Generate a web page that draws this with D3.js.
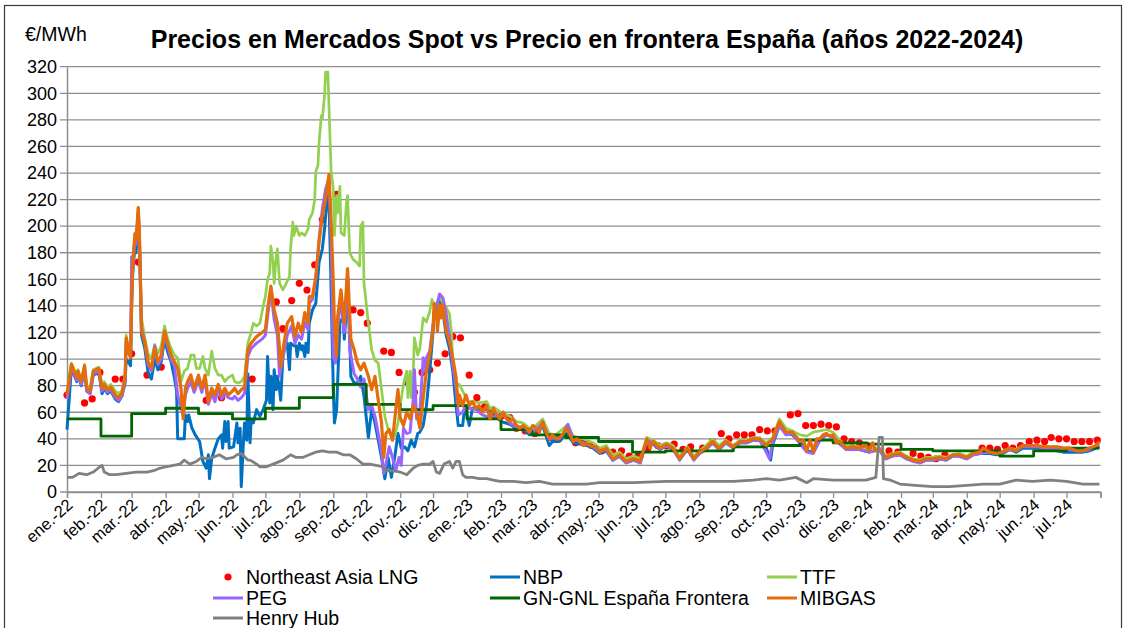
<!DOCTYPE html>
<html>
<head>
<meta charset="utf-8">
<script src="https://cdn.jsdelivr.net/npm/d3@7"></script>
<style>
  body { margin: 0; background: #fff; }
  svg { display: block; font-family: Arial, "Liberation Sans", sans-serif; }
</style>
</head>
<body>
<div id="chart"></div>
<script>
// month labels used on the date axis
const monthNames = ["ene.", "feb.", "mar.", "abr.", "may.", "jun.", "jul.", "ago.", "sep.", "oct.", "nov.", "dic."]
const yTicks = d3.range(0, 321, 20)

// Northeast Asia LNG (weekly points)
const asiaLng = [
  ["2022-01-01",73],["2022-01-17",67],["2022-01-24",70],["2022-01-31",90],["2022-02-14",85],["2022-02-21",85],
  ["2022-03-01",104],["2022-03-07",173],["2022-03-15",88],["2022-03-28",94],["2022-05-08",69],["2022-05-22",71],
  ["2022-06-19",85],["2022-07-11",143],["2022-07-17",123],["2022-07-25",144],["2022-08-01",157],["2022-08-08",152],
  ["2022-08-15",171],["2022-08-22",205],["2022-09-04",224],["2022-09-19",137],["2022-09-26",135],["2022-10-02",127],
  ["2022-10-17",106],["2022-10-24",105],["2022-10-31",90],["2022-11-07",83],["2022-11-14",75],["2022-11-21",90],
  ["2022-11-28",92],["2022-12-05",97],["2022-12-12",104],["2022-12-19",117],["2022-12-26",116],["2023-01-03",88],
  ["2023-01-10",71],["2023-01-17",64],["2023-01-25",58],["2023-02-01",57],["2023-02-09",56],["2023-02-15",48],
  ["2023-02-23",46],["2023-03-04",44],["2023-03-19",41],["2023-03-26",40],["2023-04-10",37],["2023-04-18",38],
  ["2023-04-25",35],["2023-05-04",31],["2023-05-14",30],["2023-05-22",31],["2023-05-29",27],["2023-06-06",27],
  ["2023-06-15",33],["2023-06-24",35],["2023-07-02",35],["2023-07-09",36],["2023-07-17",32],["2023-07-24",34],
  ["2023-08-04",33],["2023-08-13",38],["2023-08-21",44],["2023-08-28",40],["2023-09-04",43],["2023-09-11",43],
  ["2023-09-18",43],["2023-09-25",47],["2023-10-02",46],["2023-10-09",46],["2023-10-23",58],["2023-10-30",59],
  ["2023-11-06",50],["2023-11-13",50],["2023-11-20",51],["2023-11-27",50],["2023-12-04",49],["2023-12-11",40],
  ["2023-12-18",38],["2023-12-25",37],["2024-01-01",35],["2024-01-21",31],["2024-01-29",30],["2024-02-12",29],
  ["2024-02-19",27],["2024-02-26",26],["2024-03-04",25],["2024-03-12",28],["2024-04-15",33],["2024-04-22",33],
  ["2024-04-29",32],["2024-05-06",35],["2024-05-13",33],["2024-05-20",35],["2024-05-28",38],["2024-06-04",39],
  ["2024-06-11",38],["2024-06-17",41],["2024-06-24",40],["2024-07-01",40],["2024-07-08",38],["2024-07-15",38],
  ["2024-07-22",38],["2024-07-29",39]
]

const nbp = [
  ["2022-01-01",47],["2022-01-05",93],["2022-01-10",83],["2022-01-11",90],["2022-01-14",80],["2022-01-17",93],
  ["2022-01-19",76],["2022-01-22",74],["2022-01-25",88],["2022-01-30",90],["2022-02-02",74],["2022-02-04",78],
  ["2022-02-07",74],["2022-02-10",76],["2022-02-14",70],["2022-02-17",68],["2022-02-20",72],["2022-02-23",82],
  ["2022-02-24",100],["2022-02-26",98],["2022-02-28",95],["2022-03-01",140],["2022-03-02",165],["2022-03-04",185],
  ["2022-03-05",180],["2022-03-07",205],["2022-03-08",190],["2022-03-10",118],["2022-03-13",108],["2022-03-16",90],
  ["2022-03-19",85],["2022-03-22",100],["2022-03-25",92],["2022-03-28",98],["2022-03-31",115],["2022-04-03",105],
  ["2022-04-06",98],["2022-04-09",86],["2022-04-11",76],["2022-04-12",40],["2022-04-15",40],["2022-04-18",40],
  ["2022-04-19",58],["2022-04-21",53],["2022-04-22",58],["2022-04-25",48],["2022-04-28",43],["2022-05-02",38],
  ["2022-05-05",23],["2022-05-08",18],["2022-05-10",28],["2022-05-11",10],["2022-05-13",25],["2022-05-16",33],
  ["2022-05-19",40],["2022-05-22",43],["2022-05-23",33],["2022-05-25",53],["2022-05-26",38],["2022-05-28",53],
  ["2022-05-29",33],["2022-06-02",34],["2022-06-05",52],["2022-06-06",37],["2022-06-08",48],["2022-06-09",4],
  ["2022-06-11",38],["2022-06-12",52],["2022-06-14",39],["2022-06-15",89],["2022-06-17",37],["2022-06-18",54],
  ["2022-06-20",52],["2022-06-23",62],["2022-06-26",57],["2022-06-29",62],["2022-07-02",69],["2022-07-03",102],
  ["2022-07-05",67],["2022-07-06",87],["2022-07-08",62],["2022-07-09",92],["2022-07-11",77],["2022-07-12",87],
  ["2022-07-14",77],["2022-07-15",69],["2022-07-17",102],["2022-07-18",107],["2022-07-21",112],["2022-07-23",92],
  ["2022-07-24",112],["2022-07-27",110],["2022-07-29",110],["2022-07-30",102],["2022-08-01",112],["2022-08-03",107],
  ["2022-08-04",110],["2022-08-06",102],["2022-08-07",112],["2022-08-09",105],["2022-08-10",127],["2022-08-13",137],
  ["2022-08-16",142],["2022-08-19",173],["2022-08-22",183],["2022-08-24",198],["2022-08-25",208],["2022-08-27",223],
  ["2022-08-28",223],["2022-08-30",152],["2022-09-01",77],["2022-09-02",52],["2022-09-04",62],["2022-09-07",127],
  ["2022-09-10",132],["2022-09-11",115],["2022-09-13",137],["2022-09-14",152],["2022-09-16",117],["2022-09-17",87],
  ["2022-09-20",82],["2022-09-23",82],["2022-09-26",87],["2022-09-29",72],["2022-10-03",41],["2022-10-06",62],
  ["2022-10-09",52],["2022-10-12",39],["2022-10-15",26],["2022-10-18",10],["2022-10-21",26],["2022-10-24",11],
  ["2022-10-27",26],["2022-10-30",44],["2022-11-02",33],["2022-11-05",34],["2022-11-08",31],["2022-11-11",39],
  ["2022-11-14",34],["2022-11-17",44],["2022-11-19",45],["2022-11-22",50],["2022-11-25",65],["2022-11-28",91],
  ["2022-12-01",121],["2022-12-02",136],["2022-12-04",134],["2022-12-07",144],["2022-12-10",136],["2022-12-13",118],
  ["2022-12-16",108],["2022-12-19",91],["2022-12-22",65],["2022-12-24",50],["2022-12-28",50],["2022-12-30",65],
  ["2023-01-03",50],["2023-01-06",63],["2023-01-12",62],["2023-01-19",62],["2023-01-25",60],["2023-02-01",53],
  ["2023-02-09",51],["2023-02-15",48],["2023-02-21",48],["2023-02-27",43],["2023-03-05",46],["2023-03-11",50],
  ["2023-03-17",35],["2023-03-20",38],["2023-03-26",38],["2023-04-02",44],["2023-04-08",37],["2023-04-14",36],
  ["2023-04-20",35],["2023-04-26",33],["2023-05-02",29],["2023-05-08",31],["2023-05-14",24],["2023-05-20",27],
  ["2023-05-26",22],["2023-06-02",24],["2023-06-08",22],["2023-06-14",38],["2023-06-20",36],["2023-06-26",32],
  ["2023-07-02",35],["2023-07-08",32],["2023-07-14",25],["2023-07-21",32],["2023-07-27",25],["2023-08-01",29],
  ["2023-08-07",32],["2023-08-13",37],["2023-08-19",32],["2023-08-25",37],["2023-09-01",33],["2023-09-07",37],
  ["2023-09-13",37],["2023-09-19",39],["2023-09-25",39],["2023-10-01",33],["2023-10-05",24],["2023-10-07",36],
  ["2023-10-13",50],["2023-10-19",44],["2023-10-25",43],["2023-11-01",37],["2023-11-07",31],["2023-11-13",30],
  ["2023-11-19",40],["2023-11-25",43],["2023-12-01",42],["2023-12-07",37],["2023-12-13",32],["2023-12-19",33],
  ["2023-12-25",32],["2024-01-03",30],["2024-01-12",32],["2024-01-18",25],["2024-01-24",27],["2024-01-31",28],
  ["2024-02-06",25],["2024-02-12",24],["2024-02-18",22],["2024-02-24",24],["2024-03-01",24],["2024-03-07",25],
  ["2024-03-13",24],["2024-03-19",27],["2024-03-25",27],["2024-04-01",25],["2024-04-07",28],["2024-04-13",29],
  ["2024-04-22",29],["2024-04-28",28],["2024-05-04",29],["2024-05-10",32],["2024-05-16",30],["2024-05-22",33],
  ["2024-05-28",33],["2024-06-04",33],["2024-06-10",32],["2024-06-16",32],["2024-06-22",31],["2024-06-28",30],
  ["2024-07-04",30],["2024-07-10",30],["2024-07-16",30],["2024-07-22",31],["2024-07-31",34]
]

const ttf = [
  ["2022-01-01",75],["2022-01-05",97],["2022-01-10",87],["2022-01-11",92],["2022-01-14",84],["2022-01-17",96],
  ["2022-01-19",80],["2022-01-22",78],["2022-01-25",92],["2022-01-30",94],["2022-02-02",80],["2022-02-04",83],
  ["2022-02-07",79],["2022-02-10",81],["2022-02-14",76],["2022-02-17",74],["2022-02-20",76],["2022-02-23",88],
  ["2022-02-24",118],["2022-02-26",108],["2022-02-28",104],["2022-03-01",148],["2022-03-02",172],["2022-03-04",195],
  ["2022-03-05",190],["2022-03-07",214],["2022-03-08",198],["2022-03-10",131],["2022-03-13",116],["2022-03-16",104],
  ["2022-03-19",100],["2022-03-22",111],["2022-03-25",104],["2022-03-28",110],["2022-03-31",125],["2022-04-03",115],
  ["2022-04-06",108],["2022-04-09",103],["2022-04-12",101],["2022-04-15",83],["2022-04-18",91],["2022-04-21",93],
  ["2022-04-24",103],["2022-04-27",103],["2022-04-29",93],["2022-05-02",93],["2022-05-05",102],["2022-05-07",93],
  ["2022-05-10",88],["2022-05-13",106],["2022-05-16",93],["2022-05-19",88],["2022-05-22",88],["2022-05-25",83],
  ["2022-05-28",86],["2022-06-01",88],["2022-06-03",83],["2022-06-06",82],["2022-06-09",83],["2022-06-12",87],
  ["2022-06-15",112],["2022-06-18",120],["2022-06-20",127],["2022-06-23",125],["2022-06-26",127],["2022-06-29",140],
  ["2022-07-01",147],["2022-07-03",160],["2022-07-05",165],["2022-07-06",185],["2022-07-08",173],["2022-07-09",157],
  ["2022-07-11",178],["2022-07-12",183],["2022-07-14",157],["2022-07-17",152],["2022-07-20",157],["2022-07-23",162],
  ["2022-07-24",183],["2022-07-26",203],["2022-07-27",193],["2022-07-29",200],["2022-08-01",193],["2022-08-03",195],
  ["2022-08-06",193],["2022-08-09",198],["2022-08-10",205],["2022-08-13",210],["2022-08-15",220],["2022-08-16",241],
  ["2022-08-18",246],["2022-08-19",263],["2022-08-21",283],["2022-08-22",281],["2022-08-24",298],["2022-08-25",316],
  ["2022-08-27",316],["2022-08-28",291],["2022-08-30",241],["2022-09-01",228],["2022-09-02",193],["2022-09-04",223],
  ["2022-09-05",210],["2022-09-07",230],["2022-09-08",195],["2022-09-11",193],["2022-09-13",218],["2022-09-14",223],
  ["2022-09-16",180],["2022-09-19",175],["2022-09-22",173],["2022-09-25",170],["2022-09-26",200],["2022-09-28",203],
  ["2022-09-29",157],["2022-10-03",127],["2022-10-06",107],["2022-10-09",99],["2022-10-12",97],["2022-10-15",77],
  ["2022-10-18",57],["2022-10-21",47],["2022-10-24",42],["2022-10-27",42],["2022-10-30",52],["2022-11-01",65],
  ["2022-11-04",81],["2022-11-07",91],["2022-11-08",71],["2022-11-10",91],["2022-11-11",71],["2022-11-13",93],
  ["2022-11-14",116],["2022-11-16",108],["2022-11-17",103],["2022-11-19",108],["2022-11-22",131],["2022-11-25",128],
  ["2022-11-28",136],["2022-11-30",145],["2022-12-01",141],["2022-12-04",141],["2022-12-07",147],["2022-12-10",142],
  ["2022-12-13",139],["2022-12-16",134],["2022-12-18",118],["2022-12-19",96],["2022-12-22",81],["2022-12-25",81],
  ["2022-12-28",76],["2022-12-31",71],["2023-01-03",68],["2023-01-06",68],["2023-01-12",67],["2023-01-19",68],
  ["2023-01-22",63],["2023-01-25",64],["2023-02-01",60],["2023-02-09",57],["2023-02-15",53],["2023-02-21",52],
  ["2023-02-27",48],["2023-03-05",50],["2023-03-11",55],["2023-03-17",44],["2023-03-23",43],["2023-04-02",50],
  ["2023-04-08",42],["2023-04-14",41],["2023-04-20",39],["2023-04-26",37],["2023-05-02",33],["2023-05-08",35],
  ["2023-05-14",28],["2023-05-20",30],["2023-05-26",25],["2023-06-02",27],["2023-06-08",25],["2023-06-14",41],
  ["2023-06-20",39],["2023-06-26",35],["2023-07-02",37],["2023-07-08",35],["2023-07-14",27],["2023-07-21",34],
  ["2023-07-27",27],["2023-08-01",31],["2023-08-07",35],["2023-08-13",40],["2023-08-19",35],["2023-08-25",39],
  ["2023-09-01",35],["2023-09-07",39],["2023-09-13",39],["2023-09-19",41],["2023-09-25",41],["2023-10-01",37],
  ["2023-10-07",41],["2023-10-13",55],["2023-10-19",48],["2023-10-25",46],["2023-11-01",43],["2023-11-07",42],
  ["2023-11-13",45],["2023-11-19",46],["2023-11-25",47],["2023-12-01",45],["2023-12-07",39],["2023-12-13",35],
  ["2023-12-19",35],["2023-12-25",34],["2024-01-03",32],["2024-01-12",33],["2024-01-18",27],["2024-01-24",29],
  ["2024-01-31",30],["2024-02-06",27],["2024-02-12",25],["2024-02-18",24],["2024-02-24",26],["2024-03-01",26],
  ["2024-03-07",27],["2024-03-13",26],["2024-03-19",28],["2024-03-25",29],["2024-04-01",27],["2024-04-07",30],
  ["2024-04-13",31],["2024-04-22",31],["2024-04-28",30],["2024-05-04",31],["2024-05-10",33],["2024-05-16",32],
  ["2024-05-22",35],["2024-05-28",35],["2024-06-04",35],["2024-06-10",34],["2024-06-16",34],["2024-06-22",34],
  ["2024-06-28",33],["2024-07-04",33],["2024-07-10",32],["2024-07-16",32],["2024-07-22",33],["2024-07-31",36]
]

const peg = [
  ["2022-01-01",70],["2022-01-05",94],["2022-01-10",84],["2022-01-11",89],["2022-01-14",81],["2022-01-17",93],
  ["2022-01-19",76],["2022-01-22",74],["2022-01-25",89],["2022-01-30",91],["2022-02-02",76],["2022-02-04",79],
  ["2022-02-07",75],["2022-02-10",77],["2022-02-14",71],["2022-02-17",69],["2022-02-20",72],["2022-02-23",84],
  ["2022-02-24",112],["2022-02-26",104],["2022-02-28",110],["2022-03-01",177],["2022-03-02",170],["2022-03-04",190],
  ["2022-03-05",186],["2022-03-07",210],["2022-03-08",194],["2022-03-10",124],["2022-03-13",112],["2022-03-16",96],
  ["2022-03-19",91],["2022-03-22",110],["2022-03-25",96],["2022-03-28",100],["2022-03-31",119],["2022-04-03",109],
  ["2022-04-06",100],["2022-04-09",95],["2022-04-12",73],["2022-04-15",63],["2022-04-17",58],["2022-04-19",73],
  ["2022-04-21",78],["2022-04-24",83],["2022-04-27",75],["2022-05-01",84],["2022-05-04",75],["2022-05-07",84],
  ["2022-05-10",66],["2022-05-13",74],["2022-05-16",68],["2022-05-19",78],["2022-05-22",70],["2022-05-25",74],
  ["2022-05-28",71],["2022-06-01",70],["2022-06-03",72],["2022-06-06",69],["2022-06-09",71],["2022-06-12",74],
  ["2022-06-15",102],["2022-06-18",108],["2022-06-23",112],["2022-06-28",115],["2022-07-01",118],["2022-07-03",132],
  ["2022-07-06",152],["2022-07-09",130],["2022-07-12",118],["2022-07-14",87],["2022-07-15",92],["2022-07-18",105],
  ["2022-07-21",118],["2022-07-25",125],["2022-07-28",112],["2022-07-31",118],["2022-08-03",115],["2022-08-06",128],
  ["2022-08-09",122],["2022-08-10",142],["2022-08-13",145],["2022-08-16",160],["2022-08-19",190],["2022-08-22",213],
  ["2022-08-25",228],["2022-08-28",236],["2022-08-30",190],["2022-09-01",102],["2022-09-03",97],["2022-09-05",125],
  ["2022-09-08",145],["2022-09-11",120],["2022-09-14",165],["2022-09-16",107],["2022-09-20",89],["2022-09-23",85],
  ["2022-09-26",79],["2022-09-29",85],["2022-10-03",62],["2022-10-06",65],["2022-10-09",57],["2022-10-12",44],
  ["2022-10-15",30],["2022-10-17",14],["2022-10-19",21],["2022-10-22",34],["2022-10-25",26],["2022-10-28",16],
  ["2022-10-31",26],["2022-11-02",20],["2022-11-04",48],["2022-11-07",44],["2022-11-10",45],["2022-11-13",70],
  ["2022-11-14",92],["2022-11-16",55],["2022-11-19",60],["2022-11-22",101],["2022-11-23",91],["2022-11-25",101],
  ["2022-11-28",106],["2022-12-01",126],["2022-12-04",139],["2022-12-07",149],["2022-12-10",146],["2022-12-13",134],
  ["2022-12-16",116],["2022-12-19",96],["2022-12-22",78],["2022-12-24",58],["2022-12-28",60],["2022-12-31",65],
  ["2023-01-03",63],["2023-01-09",62],["2023-01-15",58],["2023-01-22",56],["2023-01-28",57],["2023-02-03",58],
  ["2023-02-09",52],["2023-02-15",49],["2023-02-21",49],["2023-02-27",45],["2023-03-05",47],["2023-03-11",52],
  ["2023-03-17",40],["2023-03-23",41],["2023-03-29",43],["2023-04-03",51],["2023-04-08",40],["2023-04-14",38],
  ["2023-04-20",36],["2023-04-26",34],["2023-05-02",30],["2023-05-08",32],["2023-05-14",24],["2023-05-20",27],
  ["2023-05-26",22],["2023-06-02",24],["2023-06-08",22],["2023-06-14",39],["2023-06-20",37],["2023-06-26",32],
  ["2023-07-02",35],["2023-07-08",32],["2023-07-14",24],["2023-07-21",32],["2023-07-27",24],["2023-08-01",29],
  ["2023-08-07",32],["2023-08-13",37],["2023-08-19",32],["2023-08-25",37],["2023-09-01",33],["2023-09-07",37],
  ["2023-09-13",37],["2023-09-19",39],["2023-09-25",39],["2023-10-01",30],["2023-10-04",25],["2023-10-07",38],
  ["2023-10-13",50],["2023-10-19",43],["2023-10-25",44],["2023-11-01",36],["2023-11-07",30],["2023-11-13",29],
  ["2023-11-19",39],["2023-11-25",43],["2023-12-01",41],["2023-12-07",36],["2023-12-13",32],["2023-12-19",32],
  ["2023-12-25",32],["2024-01-03",30],["2024-01-12",32],["2024-01-18",25],["2024-01-24",27],["2024-01-31",28],
  ["2024-02-06",25],["2024-02-12",23],["2024-02-18",22],["2024-02-24",24],["2024-03-01",24],["2024-03-07",25],
  ["2024-03-13",24],["2024-03-19",27],["2024-03-25",27],["2024-04-01",25],["2024-04-07",28],["2024-04-13",29],
  ["2024-04-22",30],["2024-04-28",29],["2024-05-04",30],["2024-05-10",32],["2024-05-16",31],["2024-05-22",34],
  ["2024-05-28",34],["2024-06-04",34],["2024-06-10",33],["2024-06-16",33],["2024-06-22",33],["2024-06-28",32],
  ["2024-07-04",32],["2024-07-10",31],["2024-07-16",31],["2024-07-22",32],["2024-07-31",35]
]

// monthly border price, drawn as steps
const gnGnl = [
  ["2022-01-01",55],["2022-02-01",42],["2022-03-01",59],["2022-04-01",63],["2022-05-01",59],["2022-06-01",55],
  ["2022-07-01",63],["2022-08-01",71],["2022-09-01",81],["2022-10-01",66],["2022-11-01",62],["2022-12-01",65],
  ["2023-01-01",55],["2023-02-01",47],["2023-03-01",43],["2023-04-01",41],["2023-05-01",38],["2023-06-01",30],
  ["2023-07-01",31],["2023-08-01",31],["2023-09-01",34],["2023-10-01",35],["2023-11-01",39],["2023-12-01",37],
  ["2024-01-01",36],["2024-02-01",32],["2024-03-01",31],["2024-04-01",31],["2024-05-01",27],["2024-06-01",31],
  ["2024-07-01",33],["2024-07-31",33]
]

const mibgas = [
  ["2022-01-01",73],["2022-01-05",96],["2022-01-10",86],["2022-01-11",91],["2022-01-14",83],["2022-01-17",95],
  ["2022-01-19",78],["2022-01-22",76],["2022-01-25",91],["2022-01-30",93],["2022-02-02",78],["2022-02-04",81],
  ["2022-02-07",77],["2022-02-10",79],["2022-02-14",73],["2022-02-17",71],["2022-02-20",74],["2022-02-23",86],
  ["2022-02-24",116],["2022-02-26",106],["2022-02-28",101],["2022-03-01",146],["2022-03-02",171],["2022-03-04",194],
  ["2022-03-05",189],["2022-03-07",214],["2022-03-08",197],["2022-03-10",121],["2022-03-13",113],["2022-03-16",98],
  ["2022-03-19",93],["2022-03-22",108],["2022-03-25",98],["2022-03-28",103],["2022-03-31",121],["2022-04-03",111],
  ["2022-04-06",103],["2022-04-09",98],["2022-04-12",93],["2022-04-15",78],["2022-04-17",55],["2022-04-19",78],
  ["2022-04-21",83],["2022-04-24",88],["2022-04-27",78],["2022-05-01",88],["2022-05-04",78],["2022-05-07",88],
  ["2022-05-10",68],["2022-05-13",78],["2022-05-16",73],["2022-05-19",81],["2022-05-22",73],["2022-05-25",78],
  ["2022-05-28",73],["2022-06-01",76],["2022-06-03",78],["2022-06-06",74],["2022-06-09",77],["2022-06-12",79],
  ["2022-06-15",107],["2022-06-18",112],["2022-06-23",117],["2022-06-28",120],["2022-07-01",122],["2022-07-03",137],
  ["2022-07-06",155],["2022-07-09",137],["2022-07-12",127],["2022-07-14",107],["2022-07-15",94],["2022-07-18",112],
  ["2022-07-21",127],["2022-07-25",132],["2022-07-28",117],["2022-07-31",127],["2022-08-03",120],["2022-08-06",135],
  ["2022-08-09",127],["2022-08-10",147],["2022-08-13",147],["2022-08-16",162],["2022-08-19",188],["2022-08-22",208],
  ["2022-08-25",220],["2022-08-28",239],["2022-08-30",203],["2022-09-01",157],["2022-09-02",127],["2022-09-04",102],
  ["2022-09-05",132],["2022-09-08",152],["2022-09-11",127],["2022-09-14",168],["2022-09-17",115],["2022-09-20",107],
  ["2022-09-23",97],["2022-09-26",92],["2022-09-29",97],["2022-10-03",87],["2022-10-06",77],["2022-10-09",87],
  ["2022-10-12",69],["2022-10-15",52],["2022-10-17",26],["2022-10-19",44],["2022-10-22",47],["2022-10-25",39],
  ["2022-10-28",62],["2022-10-30",77],["2022-11-01",56],["2022-11-04",50],["2022-11-07",60],["2022-11-10",55],
  ["2022-11-13",65],["2022-11-16",60],["2022-11-19",48],["2022-11-22",71],["2022-11-25",91],["2022-11-28",103],
  ["2022-12-01",123],["2022-12-02",142],["2022-12-04",136],["2022-12-05",121],["2022-12-07",141],["2022-12-08",131],
  ["2022-12-10",141],["2022-12-13",121],["2022-12-16",113],["2022-12-19",101],["2022-12-22",86],["2022-12-24",65],
  ["2022-12-25",73],["2022-12-28",65],["2022-12-31",73],["2023-01-03",65],["2023-01-06",68],["2023-01-09",63],
  ["2023-01-12",65],["2023-01-15",60],["2023-01-19",65],["2023-01-22",55],["2023-01-25",63],["2023-01-28",58],
  ["2023-01-31",55],["2023-02-03",60],["2023-02-06",55],["2023-02-09",53],["2023-02-12",55],["2023-02-15",50],
  ["2023-02-18",48],["2023-02-21",50],["2023-02-24",48],["2023-02-27",45],["2023-03-02",50],["2023-03-05",48],
  ["2023-03-08",45],["2023-03-11",53],["2023-03-14",45],["2023-03-17",40],["2023-03-20",43],["2023-03-23",40],
  ["2023-03-26",40],["2023-03-29",43],["2023-04-02",48],["2023-04-05",43],["2023-04-08",38],["2023-04-11",40],
  ["2023-04-14",38],["2023-04-17",35],["2023-04-20",37],["2023-04-23",35],["2023-04-26",34],["2023-04-29",34],
  ["2023-05-02",30],["2023-05-08",33],["2023-05-14",25],["2023-05-20",28],["2023-05-26",23],["2023-06-02",25],
  ["2023-06-08",23],["2023-06-14",40],["2023-06-17",33],["2023-06-20",38],["2023-06-26",33],["2023-07-02",36],
  ["2023-07-08",33],["2023-07-14",25],["2023-07-21",33],["2023-07-27",25],["2023-08-01",30],["2023-08-07",33],
  ["2023-08-13",38],["2023-08-19",33],["2023-08-25",38],["2023-09-01",34],["2023-09-07",38],["2023-09-13",38],
  ["2023-09-19",40],["2023-09-25",40],["2023-10-01",35],["2023-10-07",40],["2023-10-13",53],["2023-10-19",45],
  ["2023-10-25",45],["2023-11-01",38],["2023-11-04",39],["2023-11-07",31],["2023-11-10",39],["2023-11-13",30],
  ["2023-11-16",40],["2023-11-19",40],["2023-11-22",43],["2023-11-25",44],["2023-11-28",42],["2023-12-01",43],
  ["2023-12-04",37],["2023-12-07",38],["2023-12-13",33],["2023-12-19",34],["2023-12-25",33],["2023-12-31",35],
  ["2024-01-03",31],["2024-01-06",37],["2024-01-09",31],["2024-01-12",33],["2024-01-18",26],["2024-01-24",28],
  ["2024-01-31",29],["2024-02-06",26],["2024-02-12",24],["2024-02-18",23],["2024-02-24",25],["2024-03-01",25],
  ["2024-03-07",26],["2024-03-13",25],["2024-03-19",28],["2024-03-25",28],["2024-04-01",26],["2024-04-07",29],
  ["2024-04-13",30],["2024-04-16",33],["2024-04-22",30],["2024-04-28",29],["2024-05-04",30],["2024-05-10",33],
  ["2024-05-16",31],["2024-05-22",35],["2024-05-28",35],["2024-06-04",35],["2024-06-10",34],["2024-06-16",34],
  ["2024-06-22",34],["2024-06-28",33],["2024-07-04",33],["2024-07-10",31],["2024-07-16",31],["2024-07-22",33],
  ["2024-07-28",35],["2024-07-31",38]
]

const henryHub = [
  ["2022-01-01",11],["2022-01-06",11],["2022-01-12",14],["2022-01-19",13],["2022-01-25",15],["2022-01-31",19],
  ["2022-02-02",20],["2022-02-04",15],["2022-02-09",13],["2022-02-15",13],["2022-02-24",14],["2022-03-05",15],
  ["2022-03-15",15],["2022-03-21",16],["2022-03-27",18],["2022-04-02",19],["2022-04-08",20],["2022-04-14",21],
  ["2022-04-18",24],["2022-04-23",21],["2022-04-29",23],["2022-05-04",26],["2022-05-08",25],["2022-05-14",26],
  ["2022-05-20",28],["2022-05-26",25],["2022-06-02",26],["2022-06-05",28],["2022-06-09",29],["2022-06-15",24],
  ["2022-06-17",24],["2022-06-23",21],["2022-06-26",19],["2022-07-02",19],["2022-07-08",21],["2022-07-17",24],
  ["2022-07-24",28],["2022-07-29",26],["2022-08-04",26],["2022-08-10",28],["2022-08-16",30],["2022-08-22",31],
  ["2022-08-28",30],["2022-09-04",30],["2022-09-10",28],["2022-09-16",28],["2022-09-22",25],["2022-09-28",21],
  ["2022-10-04",21],["2022-10-10",20],["2022-10-16",19],["2022-10-19",16],["2022-10-25",16],["2022-11-01",15],
  ["2022-11-07",13],["2022-11-13",18],["2022-11-17",20],["2022-11-22",21],["2022-11-28",21],["2022-12-01",23],
  ["2022-12-04",15],["2022-12-07",14],["2022-12-11",21],["2022-12-16",23],["2022-12-19",18],["2022-12-22",23],
  ["2022-12-25",23],["2022-12-28",13],["2022-12-31",11],["2023-01-06",11],["2023-01-12",10],["2023-01-19",10],
  ["2023-01-25",9],["2023-01-31",8],["2023-02-12",8],["2023-02-24",7],["2023-03-08",8],["2023-03-20",6],
  ["2023-04-02",6],["2023-04-20",6],["2023-05-02",7],["2023-06-02",7],["2023-07-02",8],["2023-08-01",8],
  ["2023-09-01",8],["2023-09-19",9],["2023-10-01",10],["2023-10-13",9],["2023-10-28",11],["2023-11-07",7],
  ["2023-11-13",10],["2023-12-01",9],["2023-12-31",9],["2024-01-09",11],["2024-01-12",41],["2024-01-15",41],
  ["2024-01-16",10],["2024-01-22",9],["2024-01-31",6],["2024-02-14",5],["2024-03-01",4],["2024-03-16",4],
  ["2024-04-01",5],["2024-04-16",6],["2024-05-01",6],["2024-05-16",9],["2024-05-31",8],["2024-06-16",9],
  ["2024-07-01",8],["2024-07-16",6],["2024-07-31",6]
]

const W = 1129, H = 628
const parseDate = d3.timeParse("%Y-%m-%d")
const toPoints = arr => arr.map(([d, v]) => ({date: parseDate(d), value: v}))

const x = d3.scaleTime()
  .domain([new Date(2022, 0, 1), new Date(2024, 7, 1)])
  .range([67, 1100.5])
const y = d3.scaleLinear()
  .domain([0, 320])
  .range([492, 66.7])

const svg = d3.select("#chart").append("svg")
  .attr("width", W)
  .attr("height", H)

// outer chart border
svg.append("rect")
  .attr("x", 4.5).attr("y", 5.5)
  .attr("width", 1117).attr("height", 640)
  .attr("fill", "none")
  .attr("stroke", "#3a3a3a")
  .attr("stroke-width", 1.2)

// horizontal gridlines
svg.append("g")
  .selectAll("line")
  .data(yTicks)
  .join("line")
  .attr("x1", 60).attr("x2", 1100.5)
  .attr("y1", d => y(d)).attr("y2", d => y(d))
  .attr("stroke", "#8f8f8f")
  .attr("stroke-width", 1.3)

// y axis
const yAxis = svg.append("g")
  .attr("transform", "translate(67,0)")
  .style("font-size", "18px")
  .call(d3.axisLeft(y).tickValues(yTicks).tickSize(0).tickPadding(10))
yAxis.select(".domain").attr("stroke", "#8f8f8f").attr("stroke-width", 1.5)
yAxis.selectAll(".tick text").attr("fill", "#000")

// x axis with month ticks
const months = d3.timeMonth.range(new Date(2022, 0, 1), new Date(2024, 7, 2))
const xAxis = svg.append("g")
  .attr("transform", "translate(0,492)")
  .call(d3.axisBottom(x).tickValues(months).tickSize(6).tickFormat(""))
xAxis.select(".domain").attr("stroke", "#8f8f8f").attr("stroke-width", 1.5)
xAxis.selectAll(".tick line").attr("stroke", "#8f8f8f").attr("stroke-width", 1.3)

svg.append("g")
  .selectAll("text")
  .data(months.slice(0, -1))
  .join("text")
  .attr("transform", d => `translate(${x(d) + 3},${502}) rotate(-42)`)
  .attr("text-anchor", "end")
  .attr("dy", "0.35em")
  .style("font-size", "16.5px")
  .text(d => `${monthNames[d.getMonth()]}-${String(d.getFullYear()).slice(2)}`)

const line = d3.line()
  .x(d => x(d.date))
  .y(d => y(d.value))
  .curve(d3.curveLinear)

const plot = svg.append("g")

plot.selectAll(".lng")
  .data(toPoints(asiaLng))
  .join("circle")
  .attr("cx", d => x(d.date))
  .attr("cy", d => y(d.value))
  .attr("r", 3.6)
  .attr("fill", "#ff0000")

const series = [
  {data: nbp, color: "#0070c0", width: 3},
  {data: ttf, color: "#92d050", width: 2.7},
  {data: peg, color: "#9966ff", width: 3},
  {data: gnGnl, color: "#006600", width: 2.8, step: true},
  {data: mibgas, color: "#e46c0a", width: 3.2},
  {data: henryHub, color: "#808080", width: 2.8}
]

series.forEach(s => {
  const gen = s.step ? line.curve(d3.curveStepAfter) : line.curve(d3.curveLinear)
  plot.append("path")
    .datum(toPoints(s.data))
    .attr("fill", "none")
    .attr("stroke", s.color)
    .attr("stroke-width", s.width)
    .attr("stroke-linejoin", "round")
    .attr("d", gen)
})

// title and unit
svg.append("text")
  .attr("x", 587).attr("y", 48)
  .attr("text-anchor", "middle")
  .style("font-size", "25px")
  .style("font-weight", "bold")
  .text("Precios en Mercados Spot vs Precio en frontera España (años 2022-2024)")

svg.append("text")
  .attr("x", 25).attr("y", 41)
  .style("font-size", "19.5px")
  .text("€/MWh")

// legend
const legendItems = [
  {name: "Northeast Asia LNG", color: "#ff0000", dot: true, col: 0, row: 0},
  {name: "NBP", color: "#0070c0", col: 1, row: 0},
  {name: "TTF", color: "#92d050", col: 2, row: 0},
  {name: "PEG", color: "#9966ff", col: 0, row: 1},
  {name: "GN-GNL España Frontera", color: "#006600", col: 1, row: 1},
  {name: "MIBGAS", color: "#e46c0a", col: 2, row: 1},
  {name: "Henry Hub", color: "#808080", col: 0, row: 2}
]
const colX = [213, 490, 767]
const rowY = [577, 598, 618]

const legend = svg.append("g")
  .selectAll("g")
  .data(legendItems)
  .join("g")
  .attr("transform", d => `translate(${colX[d.col]},${rowY[d.row]})`)

legend.filter(d => d.dot).append("circle")
  .attr("cx", 15).attr("cy", 0).attr("r", 3.6)
  .attr("fill", d => d.color)
legend.filter(d => !d.dot).append("line")
  .attr("x1", 0).attr("x2", 30)
  .attr("stroke", d => d.color)
  .attr("stroke-width", 3)
legend.append("text")
  .attr("x", 33).attr("y", 0).attr("dy", "0.35em")
  .style("font-size", "19.5px")
  .text(d => d.name)
</script>
</body>
</html>
